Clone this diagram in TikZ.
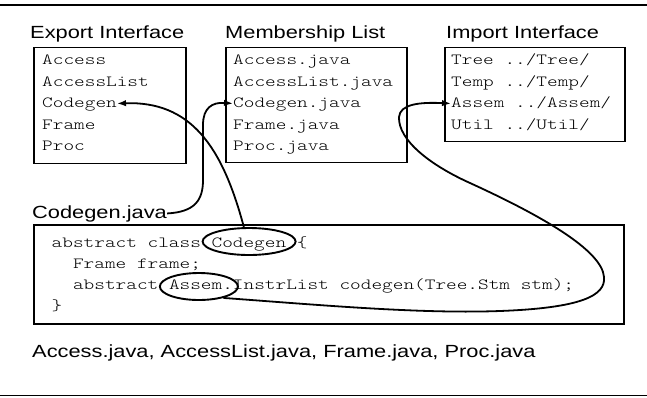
\documentclass[tikz,border=0pt]{standalone}
\usepackage{fontspec}
\newfontfamily\sansf{Liberation Sans}[FakeStretch=1.24]
\newfontfamily\monof{Latin Modern Mono Light}[FakeStretch=1.31]
\usetikzlibrary{shapes.geometric,arrows.meta,calc}
\tikzset{
  title/.style={font=\sansf\fontsize{17.6}{21}\selectfont, anchor=base west, inner sep=0pt},
  mono/.style={font=\monof\fontsize{15.5}{19}\selectfont, anchor=west, inner sep=0pt, text height=11pt, text depth=3pt},
  box/.style={draw, line width=1.9pt, anchor=north west, inner sep=0pt},
  conn/.style={line width=1.8pt, -{Latex[length=9pt,width=6.5pt]}},
  oval/.style={draw, ellipse, line width=1.9pt, inner sep=0pt},
}
\begin{document}
\begin{tikzpicture}[x=1pt,y=-1pt]
\path[fill=white,use as bounding box] (0,0) rectangle (647,397);
% rules
\draw[line width=2pt] (0,5) -- (647,5);
\draw[line width=1.3pt] (0,395.5) -- (647,395.5);
% titles
\node[title] (tex) at (30,38.5) {Export Interface};
\node[title] (tml) at (225,38.5) {Membership List};
\node[title] (tim) at (446,38.5) {Import Interface};
% boxes
\node[box, minimum width=152pt, minimum height=116pt] (ebox) at (33,46.5) {};
\node[box, minimum width=181pt, minimum height=115pt] (mbox) at (225,46.5) {};
\node[box, minimum width=180pt, minimum height=94pt] (ibox) at (444,46.5) {};
\node[box, minimum width=590pt, minimum height=99pt] (cbox) at (33,224) {};
% export rows
\node[mono] (e1) at (42,60.5) {Access};
\node[mono] (e2) at (42,82) {AccessList};
\node[mono] (e3) at (42,103.5) {Codegen};
\node[mono] (e4) at (42,125) {Frame};
\node[mono] (e5) at (42,146.5) {Proc};
% membership rows
\node[mono] (m1) at (233,60.5) {Access.java};
\node[mono] (m2) at (233,82) {AccessList.java};
\node[mono] (m3) at (233,103.5) {Codegen.java};
\node[mono] (m4) at (233,125) {Frame.java};
\node[mono] (m5) at (233,146.5) {Proc.java};
% import rows
\node[mono] (i1) at (451,60.5) {Tree ../Tree/};
\node[mono] (i2) at (451,82) {Temp ../Temp/};
\node[mono] (i3) at (451,103.5) {Assem ../Assem/};
\node[mono] (i4) at (451,125) {Util ../Util/};
% label
\node[title] (cjl) at (32,218) {Codegen.java};
% code
\node[mono] (c1) at (51.5,243) {abstract class Codegen \{};
\node[mono] (c2) at (72.86,264) {Frame frame;};
\node[mono] (c3) at (72.86,285.5) {abstract Assem.InstrList codegen(Tree.Stm stm);};
\node[mono] (c4) at (51.5,306.5) {\}};
\node[oval, minimum width=93pt, minimum height=27pt] (ecg) at ($(c1.west)+(197.6,-1.5)$) {};
\node[oval, minimum width=78pt, minimum height=27pt] (eas) at ($(c3.west)+(126,1)$) {};
% footer
\node[title] (foot) at (32,357) {Access.java, AccessList.java, Frame.java, Proc.java};
% connectors
\draw[conn] (ecg.110) .. controls (222,145) and (190,101) .. (e3.east);
\draw[conn] (cjl.east) .. controls (195,212) and (203,200) .. (203,180) -- (203,125) .. controls (203,108) and (212,102) .. (m3.west);
\draw[conn] (eas.-25) .. controls (320,305) and (420,314) .. (500,311)
  .. controls (580,308) and (606,296) .. (604,277)
  .. controls (602,250) and (540,215) .. (470,183)
  .. controls (430,165) and (398,140) .. (399,117)
  .. controls (400,104) and (420,102) .. (i3.west);
\end{tikzpicture}
\end{document}
